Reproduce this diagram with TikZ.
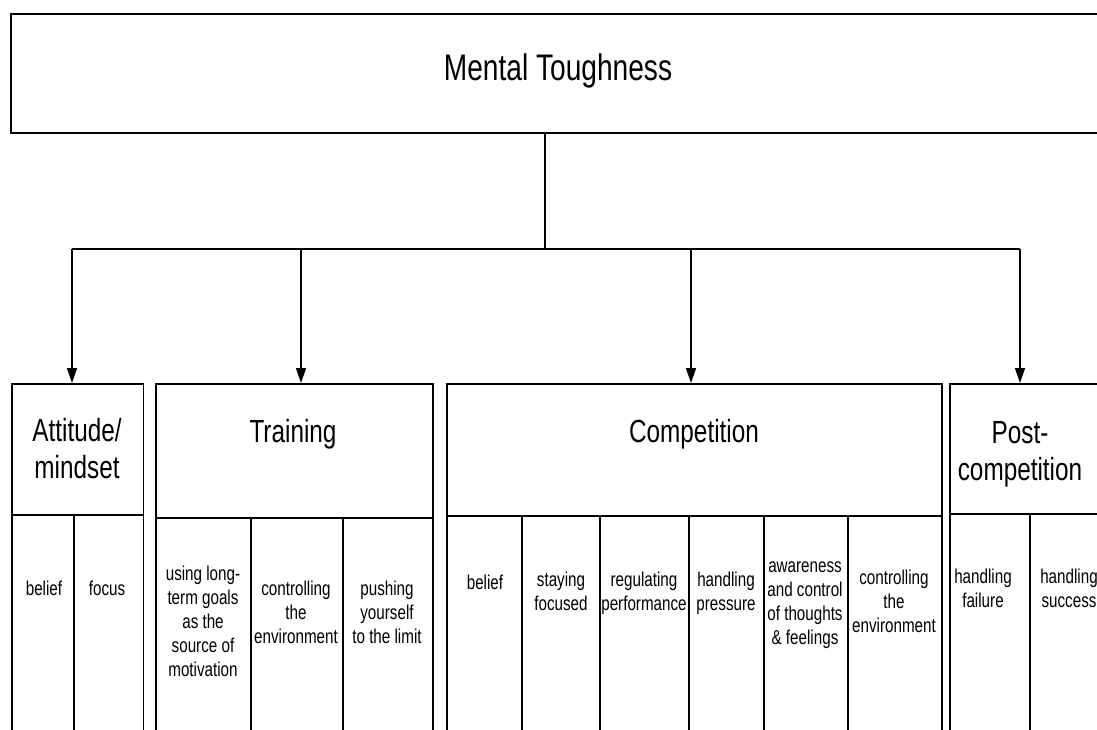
\documentclass[tikz,border=0pt]{standalone}
\usepackage{fontspec}
\usepackage{graphicx}
\setmainfont{Liberation Sans}
\usetikzlibrary{arrows.meta}
\newcommand{\nr}[1]{\scalebox{0.76}[1]{\begin{tabular}{@{}c@{}}#1\end{tabular}}}
\tikzset{
  box/.style={draw, line width=1.9pt, rectangle, inner sep=0pt, anchor=north west},
  big/.style={inner sep=0pt, font=\fontsize{37}{40}\selectfont},
  head/.style={inner sep=0pt, font=\fontsize{32}{37}\selectfont},
  small/.style={inner sep=0pt, font=\fontsize{20}{24}\selectfont},
  conn/.style={line width=1.4pt},
  arr/.style={line width=1.4pt, -{Triangle[length=15pt,width=10pt]}}
}
\begin{document}
\begin{tikzpicture}[x=1pt,y=-1pt]
\useasboundingbox (0,0) rectangle (1097,729);
\clip (0,0) rectangle (1097,729);
\fill[white] (0,0) rectangle (1097,729);
% top box
\node[box, minimum width=1110pt, minimum height=119pt] (mt) at (10,13) {};
\node[big] (mtT) at (558,72) {\nr{Mental Toughness}};
% connectors
\coordinate (bar) at (545,249);
\coordinate (bl) at (72,249);
\coordinate (br) at (1020,249);
\coordinate (a2) at (301,249);
\coordinate (a3) at (691,249);
% Attitude
\node[box, minimum width=131.5pt, minimum height=131pt] (att) at (11,383) {};
\node[head] (attT) at (77,453) {\nr{Attitude/\\mindset}};
\node[box, minimum width=61.7pt, minimum height=260pt] (att1) at (11,514) {};
\node[box, minimum width=69.8pt, minimum height=260pt] (att2) at (72.7,514) {};
\node[small] (att1T) at (44,591) {\nr{belief}};
\node[small] (att2T) at (107,591) {\nr{focus}};
% Training
\node[box, minimum width=277pt, minimum height=134pt] (tr) at (155,383) {};
\node[head] (trT) at (293,435) {\nr{Training}};
\node[box, minimum width=95pt, minimum height=260pt] (tr1) at (155,517) {};
\node[box, minimum width=92pt, minimum height=260pt] (tr2) at (250,517) {};
\node[box, minimum width=90pt, minimum height=260pt] (tr3) at (342,517) {};
\node[small] (tr1T) at (203,624) {\nr{using long-\\term goals\\as the\\source of\\motivation}};
\node[small] (tr2T) at (296,615) {\nr{controlling\\the\\environment}};
\node[small] (tr3T) at (387,615) {\nr{pushing\\yourself\\to the limit}};
% Competition
\node[box, minimum width=495pt, minimum height=132pt] (co) at (446,383) {};
\node[head] (coT) at (694,435) {\nr{Competition}};
\node[box, minimum width=75pt, minimum height=260pt] (co1) at (446,515) {};
\node[box, minimum width=78pt, minimum height=260pt] (co2) at (521,515) {};
\node[box, minimum width=89pt, minimum height=260pt] (co3) at (599,515) {};
\node[box, minimum width=75pt, minimum height=260pt] (co4) at (688,515) {};
\node[box, minimum width=84pt, minimum height=260pt] (co5) at (763,515) {};
\node[box, minimum width=94pt, minimum height=260pt] (co6) at (847,515) {};
\node[small] (co1T) at (485,585) {\nr{belief}};
\node[small] (co2T) at (561,594) {\nr{staying\\focused}};
\node[small] (co3T) at (644,594) {\nr{regulating\\performance}};
\node[small] (co4T) at (726,594) {\nr{handling\\pressure}};
\node[small] (co5T) at (805,604) {\nr{awareness\\and control\\of thoughts\\\& feelings}};
\node[small] (co6T) at (894,604) {\nr{controlling\\the\\environment}};
% Post-competition
\node[box, minimum width=170pt, minimum height=130pt] (po) at (949,383) {};
\node[head] (poT) at (1020,455) {\nr{Post-\\competition}};
\node[box, minimum width=80pt, minimum height=260pt] (po1) at (949,513) {};
\node[box, minimum width=90pt, minimum height=260pt] (po2) at (1029,513) {};
\node[small] (po1T) at (983,591) {\nr{handling\\failure}};
\node[small] (po2T) at (1069,591) {\nr{handling\\success}};
% lines
\draw[conn] (mt.south -| bar) -- (bar);
\draw[conn] (bl) -- (br);
\draw[arr] (bl) -- (bl |- att.north);
\draw[arr] (a2) -- (a2 |- tr.north);
\draw[arr] (a3) -- (a3 |- co.north);
\draw[arr] (br) -- (br |- po.north);
\end{tikzpicture}
\end{document}
